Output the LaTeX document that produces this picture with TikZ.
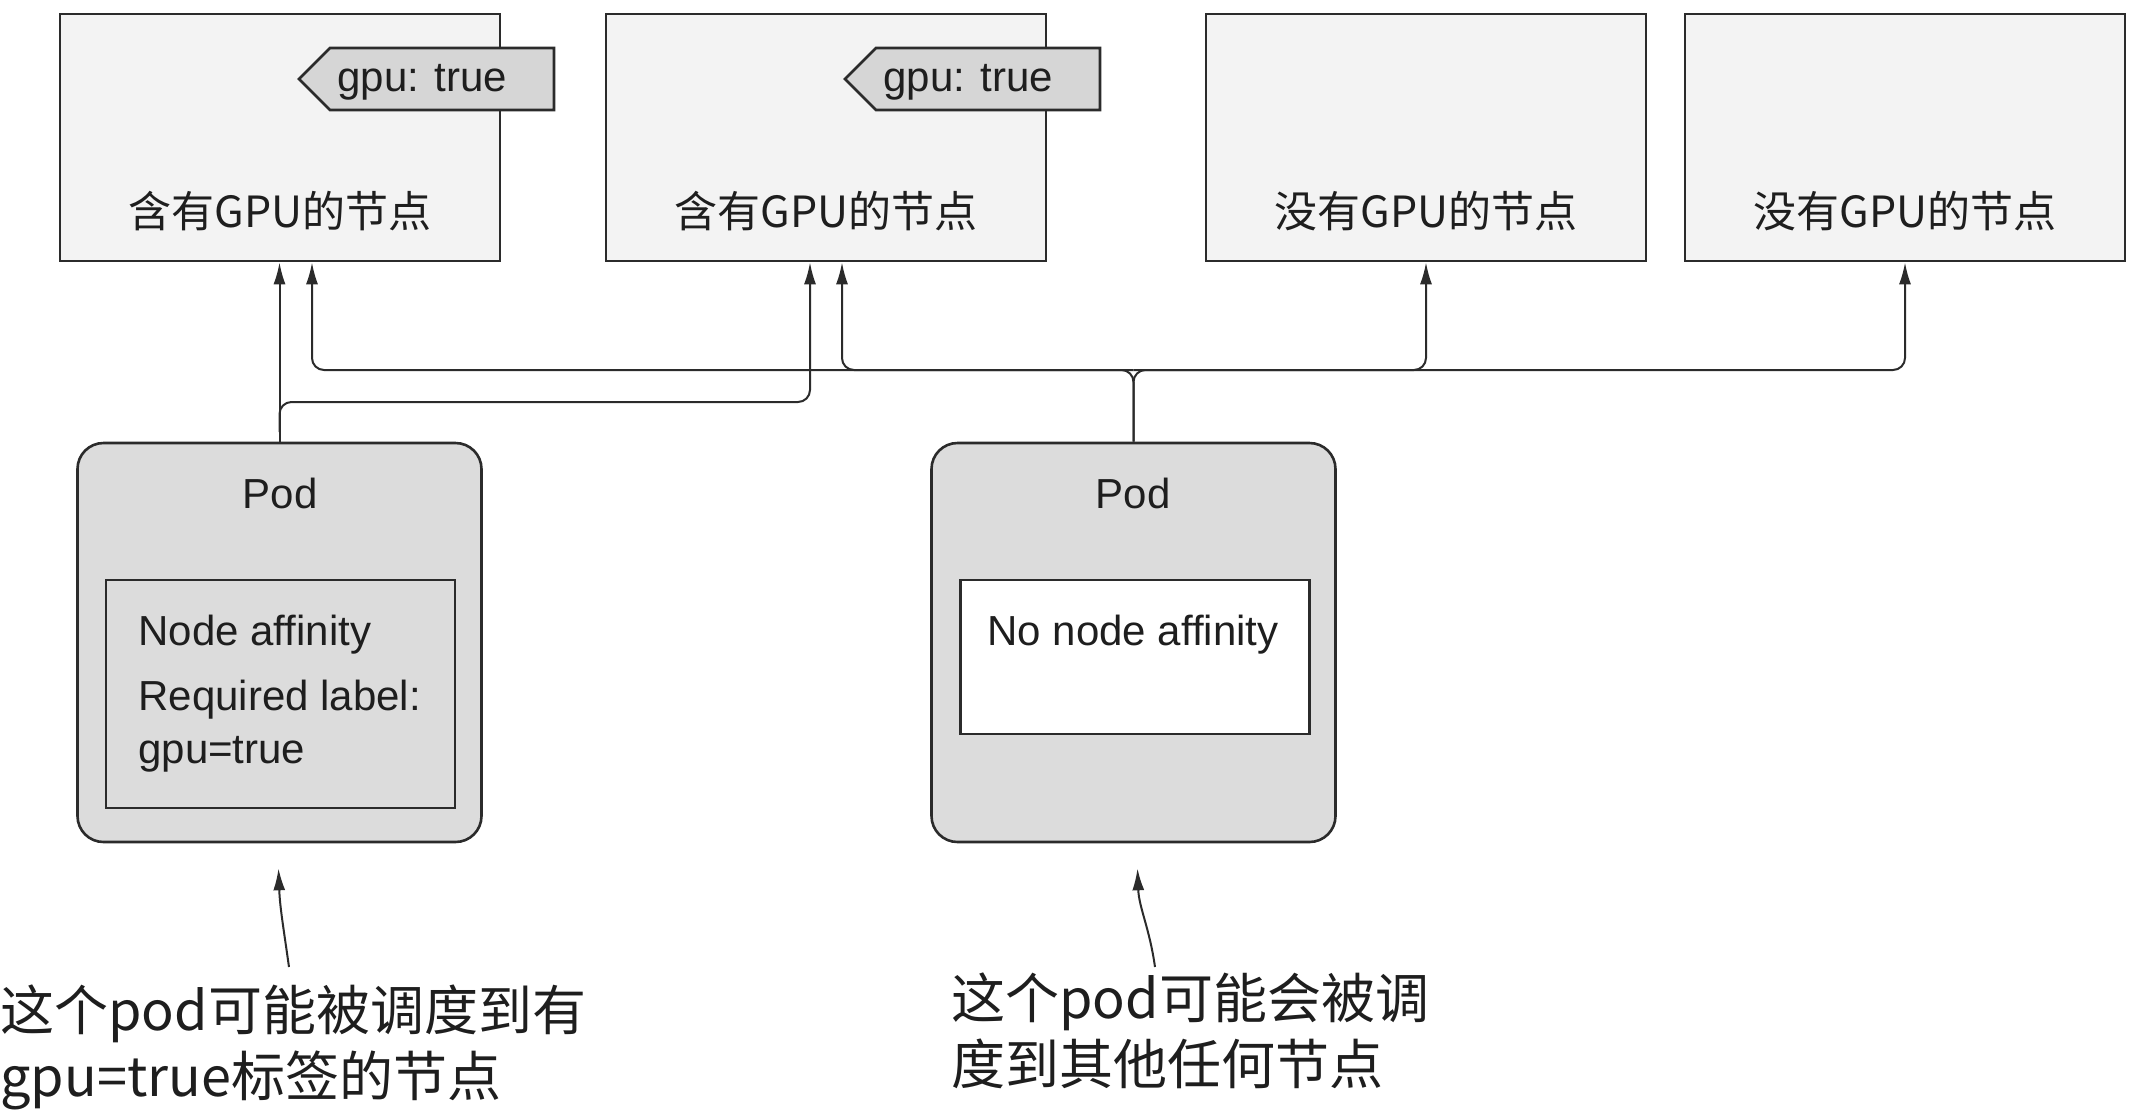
\documentclass[tikz,border=0pt]{standalone}
\usepackage{fontspec}
\setmainfont{Liberation Sans}
\newfontfamily\cjk{Noto Sans CJK SC}
\usetikzlibrary{arrows.meta,calc}
\definecolor{linec}{HTML}{2B2B2B}
\definecolor{boxfill}{HTML}{F3F3F3}
\definecolor{tagfill}{HTML}{D6D6D6}
\definecolor{podfill}{HTML}{DCDCDC}
\definecolor{textc}{HTML}{1E1E1E}
\begin{document}
\begin{tikzpicture}[x=0.5pt,y=-0.5pt,
  hostbox/.style={draw=linec, line width=1.3pt, fill=boxfill, minimum width=220pt, minimum height=123.5pt, inner sep=0pt},
  podbox/.style={draw=linec, line width=1.3pt, fill=podfill, rounded corners=13pt, minimum width=202pt, minimum height=199.5pt, inner sep=0pt},
  innerbox/.style={draw=linec, line width=1.2pt, minimum width=174.5pt, inner sep=0pt},
  tagshape/.style={draw=linec, line width=1.3pt, fill=tagfill},
  lat/.style={font=\fontsize{21}{25}\selectfont, text=textc, inner sep=0pt},
  cjklab/.style={font=\cjk\fontsize{21.5}{26}\selectfont, text=textc, inner sep=0pt},
  note/.style={font=\cjk\fontsize{27}{33}\selectfont, text=textc, inner sep=0pt},
  arr/.style={-{Latex[length=11pt,width=6pt]}, line width=1pt, draw=linec},
  bus/.style={arr, rounded corners=6pt}
]
\useasboundingbox (0,0) rectangle (2130,1110);

% host boxes
\node[hostbox] (h1) at (280,137.5) {};
\node[hostbox] (h2) at (826,137.5) {};
\node[hostbox] (h3) at (1426,137.5) {};
\node[hostbox] (h4) at (1905,137.5) {};

\node[cjklab, anchor=base] (l1) at (280,227) {含有GPU的节点};
\node[cjklab, anchor=base] (l2) at (826,227) {含有GPU的节点};
\node[cjklab, anchor=base] (l3) at (1426,227) {没有GPU的节点};
\node[cjklab, anchor=base] (l4) at (1905,227) {没有GPU的节点};

% tags
\draw[tagshape] (299,79) -- (330,48) -- (554,48) -- (554,110) -- (330,110) -- cycle;
\node[lat, anchor=base west] (g1) at (337,91) {gpu: true};
\draw[tagshape] (845,79) -- (876,48) -- (1100,48) -- (1100,110) -- (876,110) -- cycle;
\node[lat, anchor=base west] (g2) at (883,91) {gpu: true};

% pods
\node[podbox] (p1) at (279.5,642.5) {};
\node[podbox] (p2) at (1133.5,642.5) {};
\node[lat, anchor=base] (pl1) at (280,508) {Pod};
\node[lat, anchor=base] (pl2) at (1133,508) {Pod};
\node[innerbox, fill=podfill, minimum height=114pt] (i1) at (280.5,694) {};
\node[innerbox, fill=white, minimum height=77pt] (i2) at (1135,657) {};
\node[lat, anchor=base west] (t1a) at (138,645) {Node affinity};
\node[lat, anchor=base west] (t1b) at (138,710) {Required label:};
\node[lat, anchor=base west] (t1c) at (138,763) {gpu=true};
\node[lat, anchor=base] (t2a) at (1133,645) {No node affinity};

% helper coordinates
\coordinate (busB) at (0,370);
\coordinate (busA) at (0,402);
\coordinate (splitA) at (0,432);
\coordinate (a1r) at ([xshift=16pt]h1.south);
\coordinate (a2l) at ([xshift=-8pt]h2.south);
\coordinate (a2r) at ([xshift=8pt]h2.south);

% connectors from pod 1
\draw[arr] (p1.north) -- (p1.north |- h1.south);
\draw[bus] (p1.north |- splitA) -- (p1.north |- busA) -- (a2l |- busA) -- (a2l);

% connectors from pod 2
\draw[bus] (p2.north) -- (p2.north |- busB) -- (a1r |- busB) -- (a1r);
\draw[bus] (p2.north) -- (p2.north |- busB) -- (h4.south |- busB) -- (h4.south);
\draw[bus] (p2.north |- busB) -- (a2r |- busB) -- (a2r);
\draw[bus] (p2.north |- busB) -- (h3.south |- busB) -- (h3.south);

% annotations
\node[note, anchor=base west] (n1a) at (0,1030) {这个pod可能被调度到有};
\node[note, anchor=base west] (n1b) at (0,1096) {gpu=true标签的节点};
\node[note, anchor=base west] (n2a) at (951,1018) {这个pod可能会被调};
\node[note, anchor=base west] (n2b) at (951,1084) {度到其他任何节点};

\coordinate (c1) at (289,967);
\coordinate (c2) at (1155,967);
\draw[arr] (c1) to[out=98,in=-88] ([xshift=-0.5pt,yshift=-12.5pt]p1.south);
\draw[arr] (c2) to[out=98,in=-88] ([xshift=2pt,yshift=-12.5pt]p2.south);
\end{tikzpicture}
\end{document}
